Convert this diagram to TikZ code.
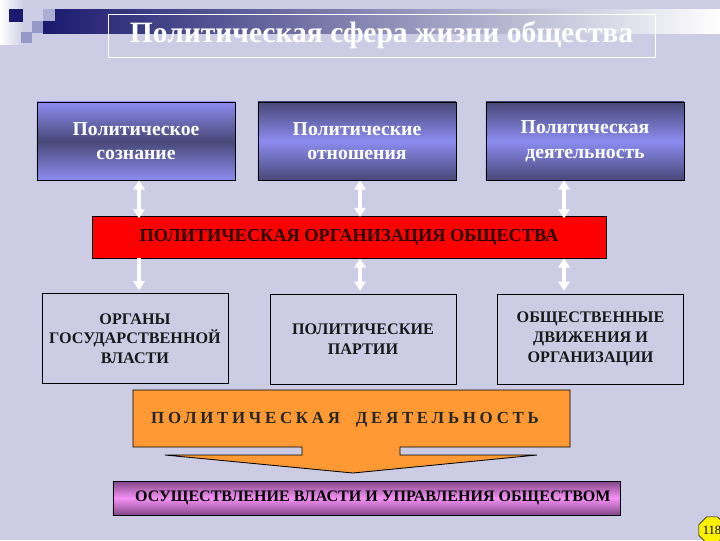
\documentclass[tikz,border=0pt]{standalone}
\usepackage{fontspec}
\setmainfont{Liberation Serif}
\usetikzlibrary{arrows.meta,calc,shapes.geometric}

\definecolor{bgcol}{RGB}{204,205,228}
\definecolor{navy}{RGB}{26,26,110}
\definecolor{sqcol}{RGB}{150,152,200}
\definecolor{boxhi}{RGB}{140,140,240}
\definecolor{boxlo}{RGB}{72,72,120}
\definecolor{purpdk}{RGB}{130,70,135}
\definecolor{purplt}{RGB}{245,145,245}
\definecolor{orng}{RGB}{255,153,51}

\tikzset{
  topbox/.style={draw=black, line width=0.6pt, minimum width=4.95cm, minimum height=1.95cm,
    align=center, text=white, font=\fontsize{14}{17.5}\selectfont\bfseries},
  lowbox/.style={draw=black, line width=0.6pt, fill=bgcol, minimum width=4.65cm, minimum height=2.25cm,
    align=center, text=black!90, font=\fontsize{11.5}{14}\selectfont\bfseries},
  dblarrow/.style={white, line width=2.2pt, {Triangle[width=8pt,length=6.5pt]}-{Triangle[width=8pt,length=6.5pt]}},
  onearrow/.style={white, line width=2.2pt, -{Triangle[width=8pt,length=6.5pt]}},
}

\begin{document}
\begin{tikzpicture}[x=0.025cm,y=-0.025cm]
  \useasboundingbox (0,0) rectangle (720,540);
  \fill[bgcol] (0,0) rectangle (720,540);

  % corner decoration
  \fill[left color=white, right color=bgcol] (0,0) rectangle (24,44);
  \fill[left color=navy, right color=white] (43,9) rectangle (720,33);
  \fill[navy] (9,9) rectangle (23,22);
  \fill[sqcol] (32,21) rectangle (43,33);
  \fill[sqcol] (21,32) rectangle (32,43);
  \fill[sqcol!80!white] (43,9) rectangle (55,21);

  % title
  \node[draw=white, line width=0.5pt, minimum width=13.675cm, minimum height=1.075cm,
    text=white, font=\fontsize{21}{24}\selectfont\bfseries] (title) at (381.5,35.5)
    {\raisebox{-2pt}{Политическая сфера жизни общества}};

  % upper row
  \node[topbox, top color=boxhi, bottom color=boxhi, middle color=boxlo] (pc) at (136,141)
    {Политическое\\сознание};
  \node[topbox, top color=boxlo, bottom color=boxlo, middle color=boxhi] (pr) at (357,141)
    {Политические\\отношения};
  \node[topbox, top color=boxlo, bottom color=boxlo, middle color=boxhi] (pa) at (585,141)
    {Политическая\\деятельность};

  \node[draw=black, line width=0.6pt, fill=red, minimum width=12.85cm, minimum height=1.05cm,
    text=black!85!red, font=\fontsize{13}{15}\selectfont\bfseries] (org) at (349,237)
    {ПОЛИТИЧЕСКАЯ ОРГАНИЗАЦИЯ ОБЩЕСТВА};

  % lower row
  \node[lowbox] (gov) at (135,338.5) {ОРГАНЫ\\ГОСУДАРСТВЕННОЙ\\ВЛАСТИ};
  \node[lowbox] (part) at (363,339) {ПОЛИТИЧЕСКИЕ\\ПАРТИИ};
  \node[lowbox] (move) at (590.5,339) {ОБЩЕСТВЕННЫЕ\\ДВИЖЕНИЯ И\\ОРГАНИЗАЦИИ};

  % arrows
  \coordinate (c1) at (139,0);
  \coordinate (c2) at (360,0);
  \coordinate (c3) at (564,0);
  \draw[dblarrow] (pc.south -| c1) -- ([yshift=-2pt]org.north -| c1);
  \draw[dblarrow] (pr.south -| c2) -- ([yshift=-1pt]org.north -| c2);
  \draw[dblarrow] (pa.south -| c3) -- ([yshift=-2pt]org.north -| c3);
  \draw[onearrow] (org.south -| c1) -- ([yshift=2pt]gov.north -| c1);
  \draw[dblarrow] (org.south -| c2) -- ([yshift=2pt]part.north -| c2);
  \draw[dblarrow] (org.south -| c3) -- ([yshift=2pt]move.north -| c3);

  % callout arrow
  \draw[fill=orng, line width=0.6pt] (133,390) -- (570,390) -- (570,447) -- (400,447) -- (400,455)
    -- (537,455) -- (353,473) -- (165,455) -- (302,455) -- (302,447) -- (133,447) -- cycle;
  \node[text=black!85, font=\fontsize{12}{14}\selectfont\bfseries\addfontfeatures{LetterSpace=22}]
    (act) at (345,420) {ПОЛИТИЧЕСКАЯ\ \ ДЕЯТЕЛЬНОСТЬ};

  \node[draw=black, line width=0.6pt, top color=purpdk, bottom color=purpdk, middle color=purplt,
    minimum width=12.675cm, minimum height=0.85cm, text=black,
    font=\fontsize{11.4}{13}\selectfont\bfseries] (rule) at (366.5,498)
    {\hspace*{9pt}ОСУЩЕСТВЛЕНИЕ ВЛАСТИ И УПРАВЛЕНИЯ ОБЩЕСТВОМ};

  % page number
  \node[regular polygon, regular polygon sides=8, draw=black, fill=yellow, minimum size=0.65cm,
    inner sep=0pt, font=\fontsize{9}{10}\selectfont] (pg) at (712,530) {118};
\end{tikzpicture}
\end{document}
